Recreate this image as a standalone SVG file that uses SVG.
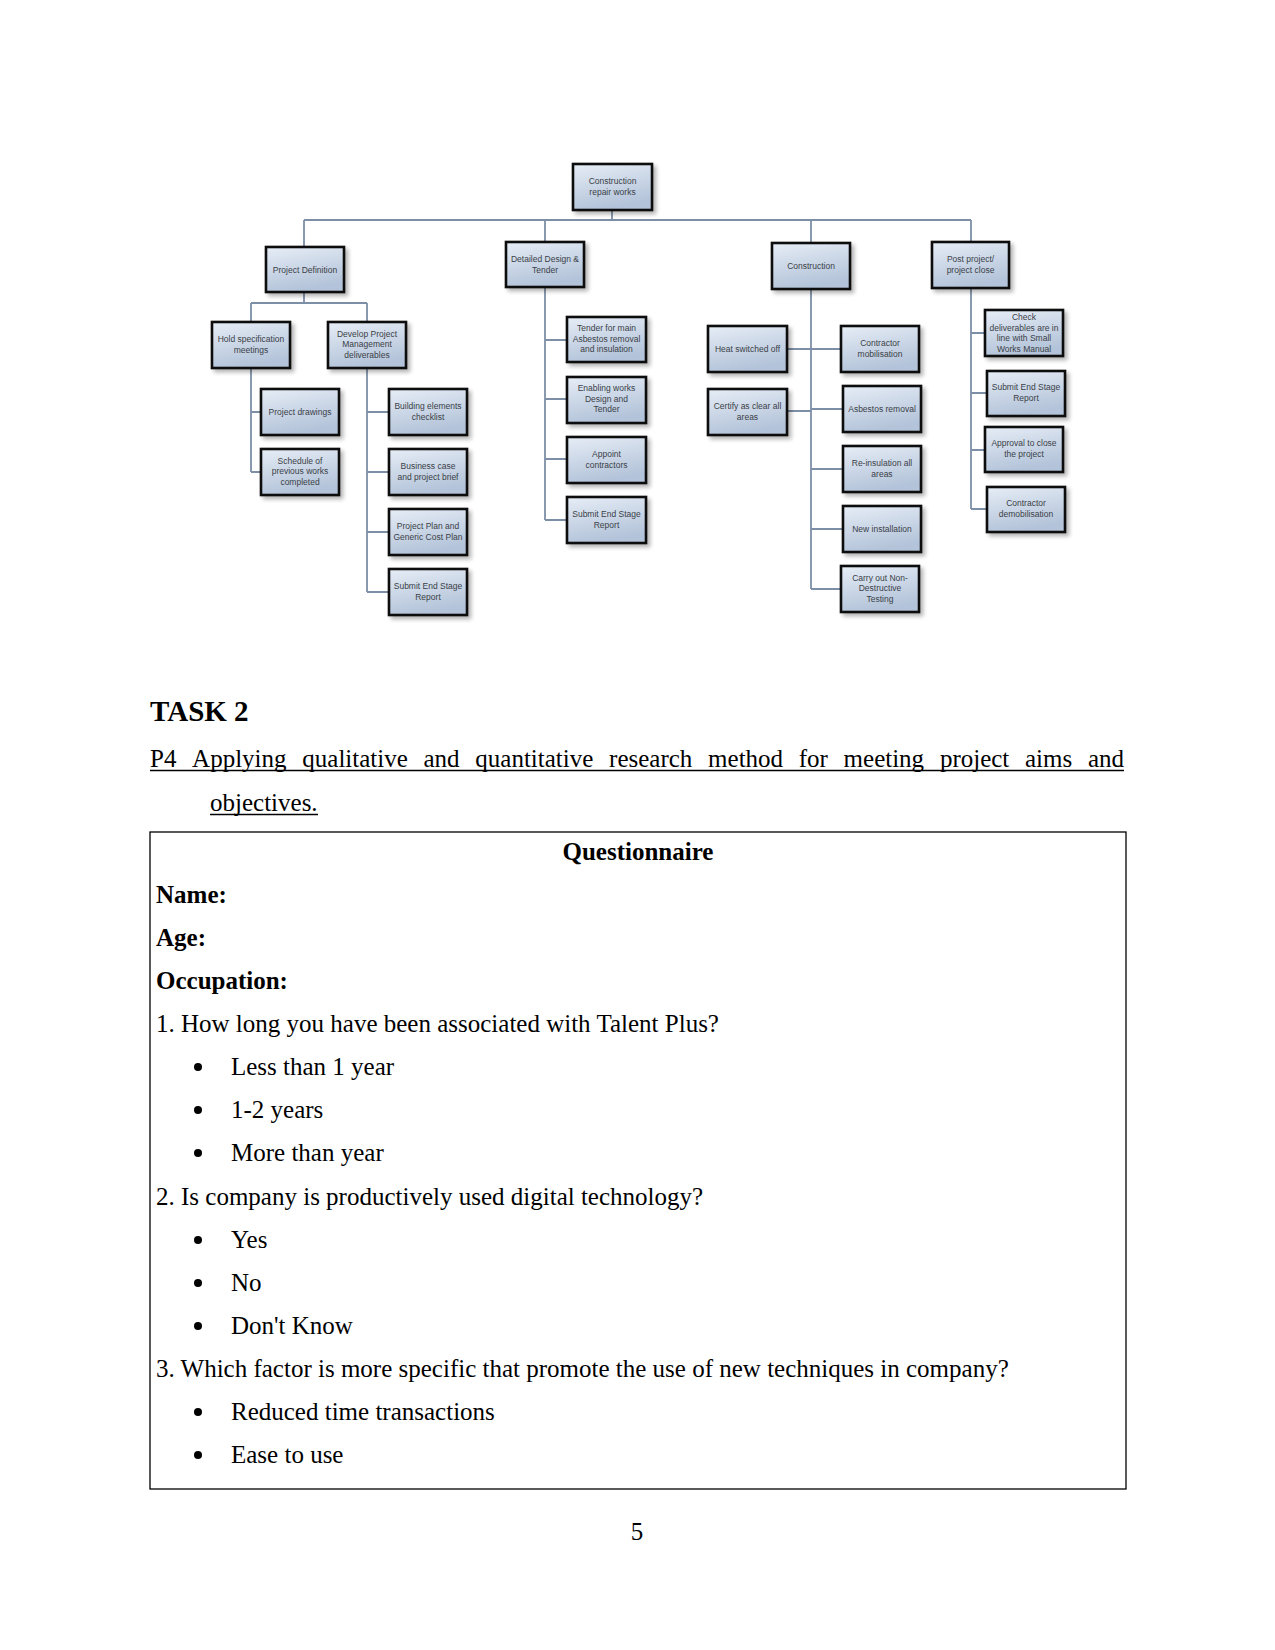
<svg xmlns="http://www.w3.org/2000/svg" width="1275" height="1650" viewBox="0 0 1275 1650">
<style>
.box{fill:url(#g);stroke:#111;stroke-width:2.6;filter:url(#sh)}
.bt{font-family:"Liberation Sans",Arial,sans-serif;font-size:8.5px;fill:#3a3f47;text-anchor:middle}
.cn{stroke:#7d8fa6;stroke-width:1.8;fill:none}
.t{font-family:"Liberation Serif","Times New Roman",serif;font-size:25px;fill:#000}
.b{font-weight:bold}
.h{font-size:29px}
</style>
<defs>
<linearGradient id="g" x1="0" y1="0" x2="0.3" y2="1">
<stop offset="0" stop-color="#e6edf6"/>
<stop offset="1" stop-color="#b3c3d9"/>
</linearGradient>
<filter id="sh" x="-20%" y="-20%" width="150%" height="160%">
<feGaussianBlur in="SourceAlpha" stdDeviation="2"/>
<feOffset dx="3" dy="3" result="o"/>
<feComponentTransfer><feFuncA type="linear" slope="0.3"/></feComponentTransfer>
<feMerge><feMergeNode/><feMergeNode in="SourceGraphic"/></feMerge>
</filter>
</defs>
<rect width="1275" height="1650" fill="#fff"/>

<g id="connectors">
<path class="cn" d="M612 210V220M304 220H971M304 220V247M545 220V242M811 220V243M971 220V242"/>
<path class="cn" d="M304 292V303M251 303H367M251 303V322M367 303V322"/>
<path class="cn" d="M251 368V472M251 412H261M251 472H261"/>
<path class="cn" d="M367 368V592M367 412H389M367 472H389M367 532H389M367 592H389"/>
<path class="cn" d="M545 287V520M545 340H567M545 399H567M545 459H567M545 520H567"/>
<path class="cn" d="M811 289V589M787 349H841M787 411H811M811 409H843M811 469H843M811 529H843M811 589H841"/>
<path class="cn" d="M971 288V509M971 333H985M971 393H987M971 450H985M971 509H987"/>
</g>

<g id="n-root"><rect class="box" x="573" y="164" width="79" height="46"/><text class="bt" x="612.5" y="184">Construction</text><text class="bt" x="612.5" y="194.5">repair works</text></g>
<g id="n-pd"><rect class="box" x="266" y="247" width="78" height="45"/><text class="bt" x="305" y="272.5">Project Definition</text></g>
<g id="n-dd"><rect class="box" x="506" y="242" width="78" height="45"/><text class="bt" x="545" y="262">Detailed Design &amp;</text><text class="bt" x="545" y="272.5">Tender</text></g>
<g id="n-con"><rect class="box" x="772" y="243" width="78" height="46"/><text class="bt" x="811" y="269">Construction</text></g>
<g id="n-pp"><rect class="box" x="932" y="242" width="77" height="46"/><text class="bt" x="970.5" y="262">Post project/</text><text class="bt" x="970.5" y="272.5">project close</text></g>

<g id="n-hs"><rect class="box" x="212" y="322" width="78" height="46"/><text class="bt" x="251" y="342">Hold specification</text><text class="bt" x="251" y="352.5">meetings</text></g>
<g id="n-dpm"><rect class="box" x="328" y="322" width="78" height="46"/><text class="bt" x="367" y="336.5">Develop Project</text><text class="bt" x="367" y="347">Management</text><text class="bt" x="367" y="357.5">deliverables</text></g>

<g id="n-pdr"><rect class="box" x="261" y="389" width="78" height="46"/><text class="bt" x="300" y="414.5">Project drawings</text></g>
<g id="n-sch"><rect class="box" x="261" y="449" width="78" height="46"/><text class="bt" x="300" y="463.5">Schedule of</text><text class="bt" x="300" y="474">previous works</text><text class="bt" x="300" y="484.5">completed</text></g>

<g id="n-be"><rect class="box" x="389" y="389" width="78" height="46"/><text class="bt" x="428" y="409">Building elements</text><text class="bt" x="428" y="419.5">checklist</text></g>
<g id="n-bc"><rect class="box" x="389" y="449" width="78" height="46"/><text class="bt" x="428" y="469">Business case</text><text class="bt" x="428" y="479.5">and project brief</text></g>
<g id="n-ppl"><rect class="box" x="389" y="509" width="78" height="46"/><text class="bt" x="428" y="529">Project Plan and</text><text class="bt" x="428" y="539.5">Generic Cost Plan</text></g>
<g id="n-ses1"><rect class="box" x="389" y="569" width="78" height="46"/><text class="bt" x="428" y="589">Submit End Stage</text><text class="bt" x="428" y="599.5">Report</text></g>

<g id="n-tm"><rect class="box" x="567" y="317" width="79" height="45"/><text class="bt" x="606.5" y="331">Tender for main</text><text class="bt" x="606.5" y="341.5">Asbestos removal</text><text class="bt" x="606.5" y="352">and insulation</text></g>
<g id="n-ew"><rect class="box" x="567" y="377" width="79" height="46"/><text class="bt" x="606.5" y="391">Enabling works</text><text class="bt" x="606.5" y="401.5">Design and</text><text class="bt" x="606.5" y="412">Tender</text></g>
<g id="n-ac"><rect class="box" x="567" y="437" width="79" height="46"/><text class="bt" x="606.5" y="457">Appoint</text><text class="bt" x="606.5" y="467.5">contractors</text></g>
<g id="n-ses2"><rect class="box" x="567" y="497" width="79" height="46"/><text class="bt" x="606.5" y="517">Submit End Stage</text><text class="bt" x="606.5" y="527.5">Report</text></g>

<g id="n-hso"><rect class="box" x="708" y="326" width="79" height="46"/><text class="bt" x="747.5" y="351.5">Heat switched off</text></g>
<g id="n-cm"><rect class="box" x="841" y="326" width="78" height="46"/><text class="bt" x="880" y="346">Contractor</text><text class="bt" x="880" y="356.5">mobilisation</text></g>
<g id="n-caa"><rect class="box" x="708" y="389" width="79" height="46"/><text class="bt" x="747.5" y="409">Certify as clear all</text><text class="bt" x="747.5" y="419.5">areas</text></g>
<g id="n-ar"><rect class="box" x="843" y="386" width="78" height="46"/><text class="bt" x="882" y="411.5">Asbestos removal</text></g>
<g id="n-ri"><rect class="box" x="843" y="446" width="78" height="46"/><text class="bt" x="882" y="466">Re-insulation all</text><text class="bt" x="882" y="476.5">areas</text></g>
<g id="n-ni"><rect class="box" x="843" y="506" width="78" height="46"/><text class="bt" x="882" y="531.5">New installation</text></g>
<g id="n-ndt"><rect class="box" x="841" y="566" width="78" height="46"/><text class="bt" x="880" y="580.5">Carry out Non-</text><text class="bt" x="880" y="591">Destructive</text><text class="bt" x="880" y="601.5">Testing</text></g>

<g id="n-cd"><rect class="box" x="985" y="310" width="78" height="46"/><text class="bt" x="1024" y="320">Check</text><text class="bt" x="1024" y="330.5">deliverables are in</text><text class="bt" x="1024" y="341">line with Small</text><text class="bt" x="1024" y="351.5">Works Manual</text></g>
<g id="n-ses3"><rect class="box" x="987" y="371" width="78" height="45"/><text class="bt" x="1026" y="390">Submit End Stage</text><text class="bt" x="1026" y="400.5">Report</text></g>
<g id="n-ap"><rect class="box" x="985" y="427" width="78" height="45"/><text class="bt" x="1024" y="446">Approval to close</text><text class="bt" x="1024" y="456.5">the project</text></g>
<g id="n-cdm"><rect class="box" x="987" y="487" width="78" height="45"/><text class="bt" x="1026" y="506">Contractor</text><text class="bt" x="1026" y="516.5">demobilisation</text></g>

<text class="t b h" x="150" y="721">TASK 2</text>
<text class="t" y="767"><tspan x="150">P4</tspan><tspan x="192.1">Applying</tspan><tspan x="302.3">qualitative</tspan><tspan x="423.5">and</tspan><tspan x="475.3">quantitative</tspan><tspan x="609.1">research</tspan><tspan x="708.1">method</tspan><tspan x="798.8">for</tspan><tspan x="843.6">meeting</tspan><tspan x="939.9">project</tspan><tspan x="1025">aims</tspan><tspan x="1087.9">and</tspan></text>
<line x1="150" y1="770.5" x2="1124" y2="770.5" stroke="#000" stroke-width="1.3"/>
<text class="t" x="210" y="811">objectives.</text>
<line x1="210" y1="814.5" x2="318" y2="814.5" stroke="#000" stroke-width="1.3"/>

<rect x="150" y="832" width="976" height="657" fill="none" stroke="#000" stroke-width="1.3"/>
<text class="t b" x="638" y="860" text-anchor="middle">Questionnaire</text>
<text class="t b" x="156" y="903">Name:</text>
<text class="t b" x="156" y="946">Age:</text>
<text class="t b" x="156" y="989">Occupation:</text>
<text class="t" x="156" y="1032">1. How long you have been associated with Talent Plus?</text>
<g fill="#000">
<circle cx="198" cy="1067" r="4"/><circle cx="198" cy="1110" r="4"/><circle cx="198" cy="1153" r="4"/>
<circle cx="198" cy="1240" r="4"/><circle cx="198" cy="1283" r="4"/><circle cx="198" cy="1326" r="4"/>
<circle cx="198" cy="1412" r="4"/><circle cx="198" cy="1455" r="4"/>
</g>
<text class="t" x="231" y="1075">Less than 1 year</text>
<text class="t" x="231" y="1118">1-2 years</text>
<text class="t" x="231" y="1161">More than year</text>
<text class="t" x="156" y="1205">2. Is company is productively used digital technology?</text>
<text class="t" x="231" y="1248">Yes</text>
<text class="t" x="231" y="1291">No</text>
<text class="t" x="231" y="1334">Don't Know</text>
<text class="t" x="156" y="1377">3. Which factor is more specific that promote the use of new techniques in company?</text>
<text class="t" x="231" y="1420">Reduced time transactions</text>
<text class="t" x="231" y="1463">Ease to use</text>
<text class="t" x="637" y="1540" text-anchor="middle">5</text>
</svg>
